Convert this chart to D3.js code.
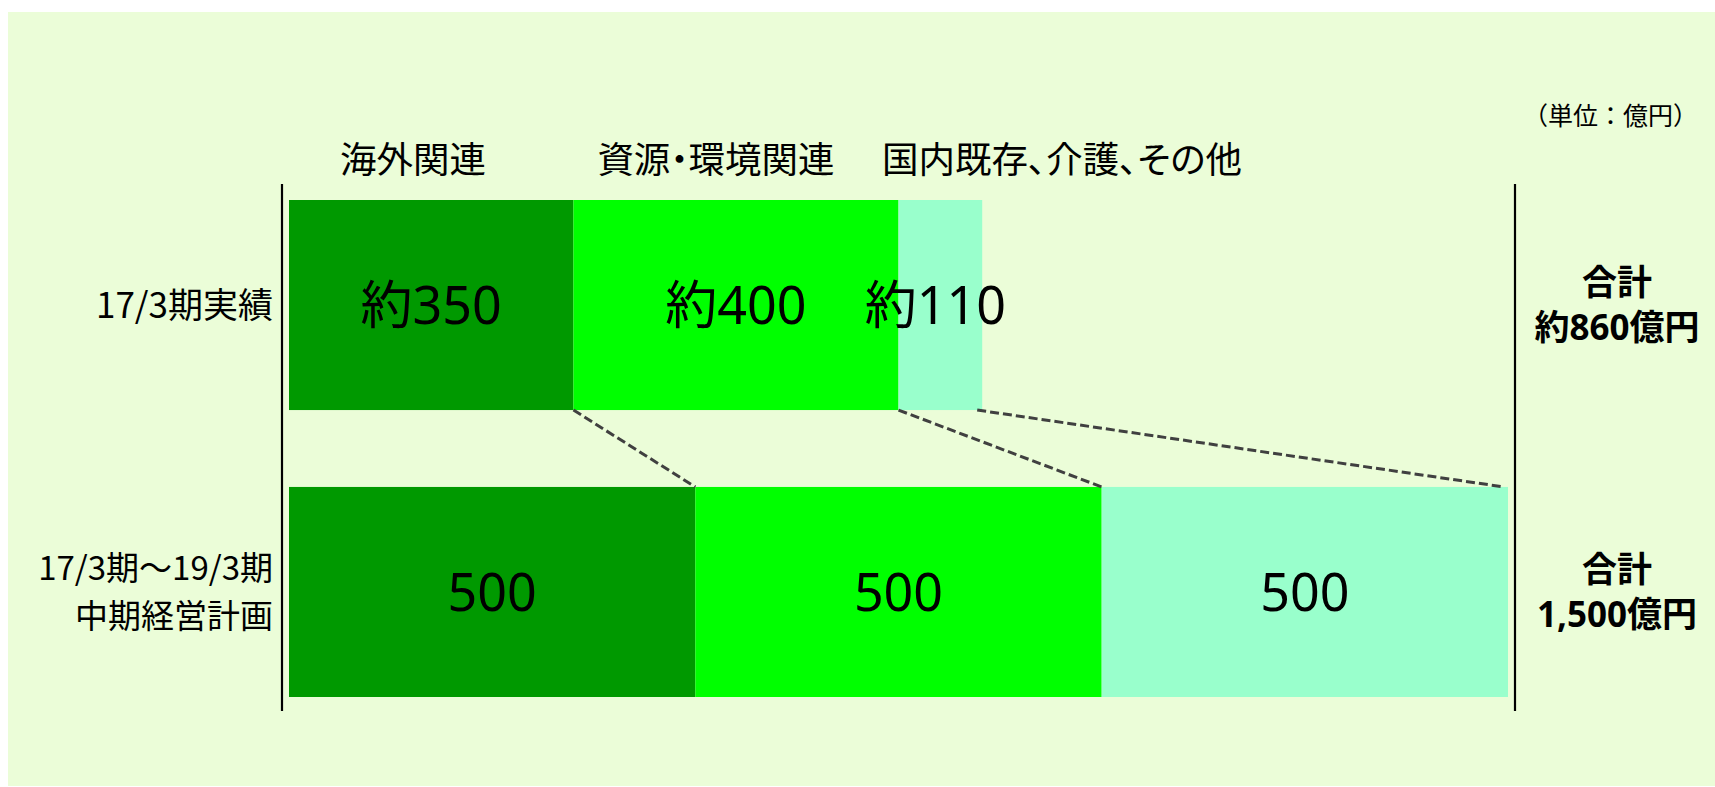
<!DOCTYPE html>
<html>
<head>
<meta charset="utf-8">
<script src="https://cdn.jsdelivr.net/npm/d3@7"></script>
<style>
  html, body { margin: 0; padding: 0; background: #ffffff; }
  svg { display: block; }
  text { font-family: "Noto Sans", "Noto Sans CJK JP", sans-serif; fill: #000; }
</style>
</head>
<body>
<svg id="chart" width="1715" height="787"></svg>
<script>
// ---- data ----
const rows = ["17/3期実績", "17/3期～19/3期 中期経営計画"];
const rowLabelLines = [["17/3期実績"], ["17/3期～19/3期", "中期経営計画"]];
const categories = ["海外関連", "資源・環境関連", "国内既存、介護、その他"];
const actualValues = [350, 400, 103];
const planValues = [500, 500, 500];
const actualLabels = ["約350", "約400", "約110"];
const planLabels = ["500", "500", "500"];
const totalLines = [["合計", "約860億円"], ["合計", "1,500億円"]];
const unitLabel = "（単位：億円）";
const colors = ["#009900", "#00ff00", "#99ffcc"];

// ---- layout ----
const W = 1715, H = 787;
const svg = d3.select("#chart");

svg.append("rect").attr("x", 8).attr("y", 12).attr("width", W - 8).attr("height", 774)
  .attr("fill", "#ebfdd8");

const x = d3.scaleLinear().domain([0, 1500]).range([289, 1508]);
const y = d3.scaleBand().domain(rows).range([200, 697]).paddingInner(0.268).paddingOuter(0);

const series = [actualValues, planValues];
const seriesLabels = [actualLabels, planLabels];

const segs = [];
series.forEach((vals, ri) => {
  let acc = 0;
  vals.forEach((v, ci) => {
    segs.push({row: rows[ri], ri, ci, x0: acc, x1: acc + v, label: seriesLabels[ri][ci]});
    acc += v;
  });
});

// bars
svg.append("g").selectAll("rect").data(segs).join("rect")
  .attr("x", d => x(d.x0))
  .attr("y", d => y(d.row))
  .attr("width", d => x(d.x1) - x(d.x0))
  .attr("height", y.bandwidth())
  .attr("fill", d => colors[d.ci]);

// connectors (dashed)
const topSegs = segs.filter(d => d.ri === 0);
const botSegs = segs.filter(d => d.ri === 1);
svg.append("g").selectAll("line").data(topSegs).join("line")
  .attr("x1", (d, i) => x(d.x1) - (i === 2 ? 5 : 0))
  .attr("y1", y(rows[0]) + y.bandwidth())
  .attr("x2", (d, i) => x(botSegs[i].x1) - (i === 2 ? 4 : 0))
  .attr("y2", y(rows[1]))
  .attr("stroke", "#404040")
  .attr("stroke-width", 3)
  .attr("stroke-dasharray", "9,4");

// bar value labels
svg.append("g").selectAll("text").data(segs).join("text")
  .attr("x", d => (x(d.x0) + x(d.x1)) / 2 - (d.ri === 0 && d.ci === 2 ? 5 : 0))
  .attr("y", d => y(d.row) + y.bandwidth() / 2)
  .attr("dy", "0.36em")
  .attr("text-anchor", "middle")
  .style("font-size", "52px")
  .text(d => d.label);

// vertical lines
[282, 1515].forEach(lx => {
  svg.append("line").attr("x1", lx).attr("x2", lx).attr("y1", 184).attr("y2", 711)
    .attr("stroke", "#000").attr("stroke-width", 2.2);
});

// category headers
const headerX = [413, 716, 1062];
svg.append("g").selectAll("text").data(categories).join("text")
  .attr("x", (d, i) => headerX[i])
  .attr("y", 160)
  .attr("dy", "0.36em")
  .attr("text-anchor", "middle")
  .style("font-family", "'Noto Sans CJK JP', sans-serif")
  .style("font-feature-settings", "'palt' 1")
  .style("font-size", "36.5px")
  .text(d => d);

// unit label
svg.append("text").attr("x", 1698).attr("y", 116).attr("dy", "0.36em")
  .attr("text-anchor", "end")
  .style("font-family", "'Noto Sans CJK JP', sans-serif")
  .style("font-size", "25px")
  .text(unitLabel);

// multi-line text helper (one text element, tspans)
function multiText(lines, tx, cy, lh, anchor, styles) {
  const t = svg.append("text").attr("text-anchor", anchor);
  Object.entries(styles).forEach(([k, v]) => t.style(k, v));
  lines.forEach((ln, li) => {
    t.append("tspan")
      .attr("x", tx)
      .attr("y", cy + (li - (lines.length - 1) / 2) * lh)
      .attr("dy", "0.36em")
      .text(ln);
  });
}

// row labels
rowLabelLines.forEach((lines, ri) => {
  const cy = y(rows[ri]) + y.bandwidth() / 2;
  multiText(lines, 273, cy, 48, "end",
    {"font-family": "'Noto Sans CJK JP', sans-serif", "font-size": ri === 0 ? "35px" : "33px"});
});

// totals
totalLines.forEach((lines, ri) => {
  const cy = y(rows[ri]) + y.bandwidth() / 2;
  multiText(lines, 1617, cy, 45, "middle",
    {"font-weight": "bold", "font-size": "35px"});
});
</script>
</body>
</html>
